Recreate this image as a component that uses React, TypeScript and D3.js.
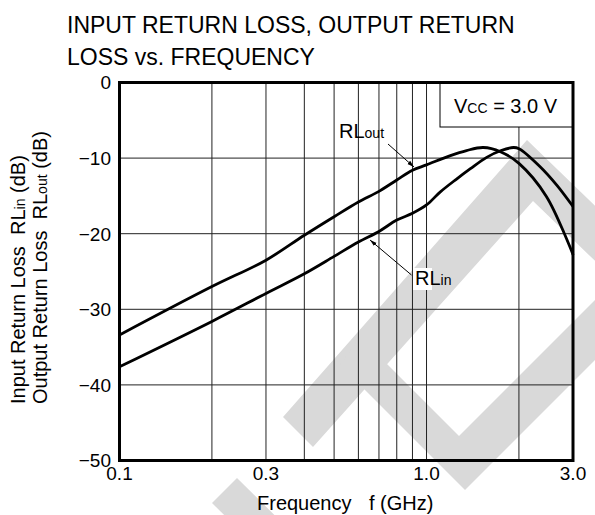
import React from 'react';
import * as d3 from 'd3';

// RL vs frequency (Vcc = 3.0 V)
const rlOutFreq = [0.1, 0.2, 0.3, 0.4, 0.5, 0.6, 0.7, 0.8, 0.9, 1.0, 1.19, 1.35, 1.53, 1.74, 2.0, 2.46, 3.0];
const rlOutDb = [-33.4, -27.0, -23.5, -20.2, -17.75, -15.8, -14.4, -12.9, -11.6, -10.9, -9.7, -9.0, -8.6, -9.15, -10.7, -15.1, -22.8];

const rlInFreq = [0.1, 0.2, 0.3, 0.4, 0.5, 0.6, 0.7, 0.8, 0.9, 1.0, 1.107, 1.25, 1.39, 1.57, 1.75, 1.92, 2.0, 2.34, 2.66, 3.0];
const rlInDb = [-37.6, -31.6, -27.9, -25.3, -23.0, -21.1, -19.7, -18.2, -17.3, -16.2, -14.5, -12.8, -11.4, -9.9, -9.0, -8.6, -8.75, -11.1, -13.6, -16.4];

const yTicks = [0, -10, -20, -30, -40, -50];
const xGrid = [0.2, 0.3, 0.4, 0.5, 0.6, 0.7, 0.8, 0.9, 1.0, 2.0];
const xTickLabels = ['0.1', '0.3', '1.0', '3.0'];

const FONT = '"Liberation Sans", Arial, Helvetica, sans-serif';

// light grey watermark behind the plot (page pixels)
const wmShapes = [
  '283,417 527,140 620,230 620,285 533,201 313,447',
  '360,337 459,436 620,275 620,335 465,490 340,365',
  '212,503 237,478 330,570 305,595',
];

export default function App() {
  const width = 595, height = 515;
  const left = 119.5, right = 573, top = 82.5, bottom = 460.5;

  const x = d3.scaleLog().domain([0.1, 3.0]).range([left, right]);
  const y = d3.scaleLinear().domain([-50, 0]).range([bottom, top]);

  const line = d3.line<[number, number]>()
    .x(d => x(d[0]))
    .y(d => y(d[1]))
    .curve(d3.curveCatmullRom.alpha(0.5));

  const outPts = rlOutFreq.map((f, i) => [f, rlOutDb[i]] as [number, number]);
  const inPts = rlInFreq.map((f, i) => [f, rlInDb[i]] as [number, number]);

  const boxLeft = 440, boxBottom = 127;

  return (
    <svg width={width} height={height} style={{ position: 'absolute', left: 0, top: 0 }} fontFamily={FONT}>
      <rect x={0} y={0} width={width} height={height} fill='#fff' />

      {/* background watermark */}
      <g fill='#d9d9d9'>
        {wmShapes.map((s, i) => <polygon key={i} points={s} />)}
      </g>

      {/* title */}
      <text x={67} y={33} fontSize={23}>INPUT RETURN LOSS, OUTPUT RETURN</text>
      <text x={67} y={65} fontSize={23}>LOSS vs. FREQUENCY</text>

      {/* grid */}
      {yTicks.filter(v => v > -50 && v < 0).map(v => (
        <line key={'h' + v} x1={left} x2={right} y1={y(v)} y2={y(v)} stroke='#222' strokeWidth={1} />
      ))}
      {xGrid.map(f => (
        <line key={'v' + f} x1={x(f)} x2={x(f)} y1={x(f) > boxLeft ? boxBottom : top} y2={bottom} stroke='#222' strokeWidth={1} />
      ))}

      {/* Vcc box */}
      <rect x={boxLeft} y={top} width={right - boxLeft} height={boxBottom - top} fill='#fff' stroke='#000' strokeWidth={1} />
      <text x={454} y={113} fontSize={20}>
        V<tspan fontSize={14}>CC</tspan> = 3.0 V
      </text>

      {/* curves */}
      <path d={line(outPts) || ''} fill='none' stroke='#000' strokeWidth={2.8} />
      <path d={line(inPts) || ''} fill='none' stroke='#000' strokeWidth={2.8} />

      {/* frame */}
      <rect x={left} y={top} width={right - left} height={bottom - top} fill='none' stroke='#000' strokeWidth={3} />

      {/* annotations */}
      <defs>
        <marker id='arr' viewBox='0 0 10 10' refX={10} refY={5} markerWidth={7} markerHeight={7} orient='auto'>
          <path d='M0,2 L10,5 L0,8 z' fill='#000' />
        </marker>
      </defs>
      <text x={339} y={138} fontSize={20}>RL<tspan fontSize={14}>out</tspan></text>
      <line x1={388} y1={144} x2={414} y2={167} stroke='#000' strokeWidth={1} markerEnd='url(#arr)' />
      <rect x={413} y={268} width={19} height={22} fill='#fff' />
      <text x={415} y={285} fontSize={20}>RL<tspan fontSize={14}>in</tspan></text>
      <line x1={411.5} y1={275} x2={370} y2={240} stroke='#000' strokeWidth={1} markerEnd='url(#arr)' />

      {/* y tick labels */}
      {yTicks.map(v => (
        <text key={'yl' + v} x={111} y={y(v)} dy='0.36em' textAnchor='end' fontSize={19}>
          {v === 0 ? '0' : '\u2212' + Math.abs(v)}
        </text>
      ))}
      {/* x tick labels */}
      {xTickLabels.map(s => (
        <text key={'xl' + s} x={x(+s)} y={480} textAnchor='middle' fontSize={19}>{s}</text>
      ))}

      {/* axis titles */}
      <text x={257} y={510} fontSize={20}>Frequency</text>
      <text x={369} y={510} fontSize={20}>f (GHz)</text>
      <g transform='translate(25,404) rotate(-90)'>
        <text x={0} y={0} fontSize={20} xmlSpace='preserve'>Input Return Loss  RL<tspan fontSize={14}>in</tspan> (dB)</text>
      </g>
      <g transform='translate(46.5,404) rotate(-90)'>
        <text x={0} y={0} fontSize={20} xmlSpace='preserve'>Output Return Loss  RL<tspan fontSize={14}>out</tspan> (dB)</text>
      </g>
    </svg>
  );
}
